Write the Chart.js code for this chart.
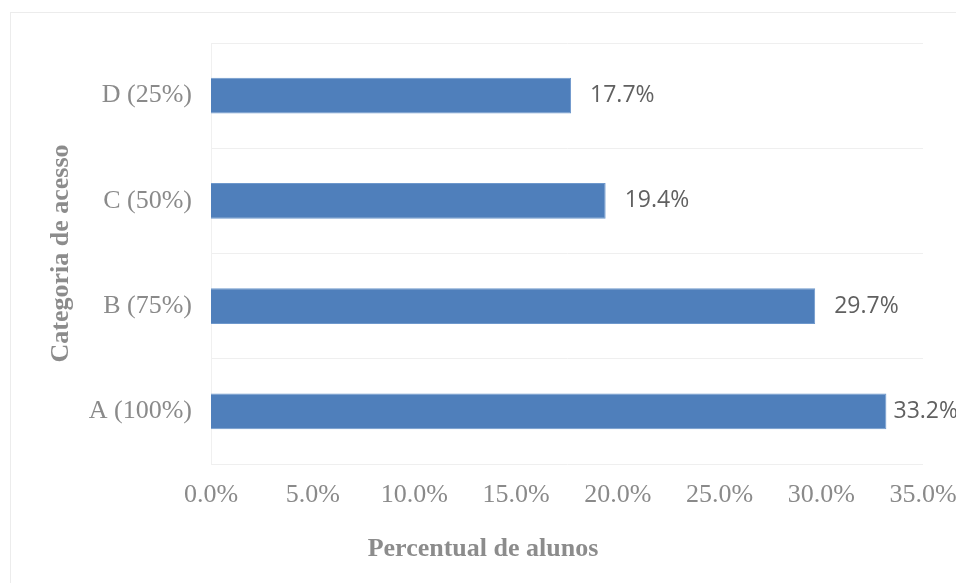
<!DOCTYPE html>
<html>
<head>
<meta charset="utf-8">
<script src="https://cdn.jsdelivr.net/npm/chart.js@4"></script>
<style>
    html, body { margin: 0; padding: 0; background: #ffffff; }
    #wrap { position: relative; width: 956px; height: 583px; overflow: hidden; }
    #frame { position: absolute; left: 10px; top: 12px; width: 960px; height: 580px; border: 1px solid #ececec; box-sizing: border-box; }
    canvas { position: absolute; left: 0; top: 0; }
</style>
</head>
<body>
<div id="wrap">
    <div id="frame"></div>
    <canvas id="accessChart" width="956" height="583"></canvas>
</div>
<script>
// Categories (top to bottom as shown)
const CATEGORIES = ["D (25%)", "C (50%)", "B (75%)", "A (100%)"];
// Share of students per category (%)
const SHARES = [17.7, 19.4, 29.7, 33.2];
// Axis ticks
const X_MIN = 0;
const X_MAX = 35;
const X_STEP = 5;
const X_TITLE = 'Percentual de alunos';
const Y_TITLE = 'Categoria de acesso';

const TICK_GREY = '#8a8a8a';
const TITLE_GREY = '#8c8c8c';
const SERIF = '"Liberation Serif", "Times New Roman", serif';

// Draws the value at the end of every bar (pulled back in if it would run off the canvas)
const valueLabels = {
    id: 'valueLabels',
    afterDatasetsDraw(chart) {
        const ctx = chart.ctx;
        const meta = chart.getDatasetMeta(0);
        ctx.save();
        ctx.font = '23px "Open Sans", "Liberation Sans", sans-serif';
        ctx.fillStyle = '#606060';
        ctx.textAlign = 'left';
        ctx.textBaseline = 'middle';
        meta.data.forEach((bar, i) => {
            const text = SHARES[i].toFixed(1) + '%';
            const w = ctx.measureText(text).width;
            const x = Math.min(bar.x + 19, chart.width - w + 2);
            ctx.fillText(text, x, bar.y);
        });
        ctx.restore();
    }
};

// x axis title is centred on the whole frame (Excel style), not on the plot area
const xTitle = {
    id: 'xTitle',
    afterDraw(chart) {
        const ctx = chart.ctx;
        const xScale = chart.scales.x;
        ctx.save();
        ctx.font = 'bold 26px ' + SERIF;
        ctx.fillStyle = TITLE_GREY;
        ctx.textAlign = 'center';
        ctx.textBaseline = 'middle';
        ctx.fillText(X_TITLE, (10 + chart.width) / 2, xScale.bottom - 34);
        ctx.restore();
    }
};

const ctx = document.getElementById('accessChart').getContext('2d');
const accessChart = new Chart(ctx, {
    type: 'bar',
    data: {
        labels: CATEGORIES,
        datasets: [{
            data: SHARES,
            backgroundColor: '#4f7fbb',
            borderColor: '#6e98cc',
            borderWidth: 1,
            categoryPercentage: 1,
            barPercentage: 0.34
        }]
    },
    options: {
        indexAxis: 'y',
        responsive: false,
        animation: false,
        layout: { padding: { left: 0, right: 33, top: 43, bottom: 0 } },
        plugins: {
            legend: { display: false },
            tooltip: { enabled: false }
        },
        scales: {
            x: {
                min: X_MIN,
                max: X_MAX,
                grid: { display: false, drawTicks: false },
                border: { display: false },
                ticks: {
                    stepSize: X_STEP,
                    padding: 16,
                    color: TICK_GREY,
                    font: { family: SERIF, size: 26 },
                    callback: v => v.toFixed(1) + '%'
                },
                title: { display: false },
                afterFit(scale) {
                    scale.height = 119;
                    scale.paddingLeft = 0;
                    scale.paddingRight = 0;
                }
            },
            y: {
                grid: { color: '#efefef', lineWidth: 1, drawTicks: false },
                border: { display: true, color: '#f0f0f0' },
                ticks: {
                    padding: 19,
                    color: TICK_GREY,
                    font: { family: SERIF, size: 26 }
                },
                title: {
                    display: true,
                    text: Y_TITLE,
                    color: TITLE_GREY,
                    font: { family: SERIF, size: 26, weight: 'bold' },
                    padding: { top: 46, bottom: 0 }
                },
                afterFit(scale) { scale.width = 211; }
            }
        }
    },
    plugins: [valueLabels, xTitle]
});
</script>
</body>
</html>
